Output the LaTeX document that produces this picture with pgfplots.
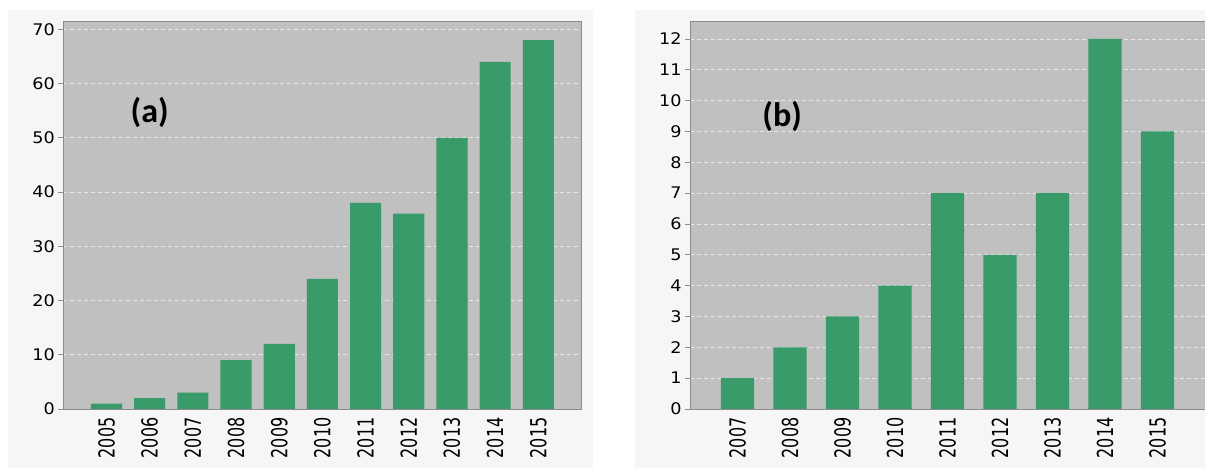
\documentclass[border=0pt]{standalone}
\usepackage{pgfplots}
\pgfplotsset{compat=1.18}
\usepackage{fontspec}
\usepackage{graphicx}
\newfontfamily\tickfont{DejaVu Sans}
\newfontfamily\labfont{Carlito}
\definecolor{bargreen}{HTML}{389B69}
\definecolor{plotbg}{HTML}{C0C0C0}
\definecolor{panelbg}{HTML}{F6F6F6}
\definecolor{axisgray}{HTML}{8C8C8C}
\definecolor{gridc}{HTML}{E8E8E8}
\newcommand{\xl}[1]{\scalebox{1}[1.38]{#1}}
\pgfplotsset{
  mybar/.style={
    scale only axis,
    ybar,
    axis background/.style={fill=plotbg},
    axis line style={axisgray, line width=0.8pt},
    ymajorgrids,
    grid style={gridc, line width=0.8pt, dash pattern=on 4pt off 3pt},
    tick align=outside,
    major tick length=5pt,
    ytick pos=left,
    ytick style={axisgray, line width=0.8pt},
    xtick style={draw=none},
    xtick=data,
    tick label style={font=\tickfont\fontsize{16}{16}\selectfont, text=black},
    /pgf/number format/assume math mode=true,
    yticklabel={\scalebox{1.1}[1]{\pgfmathprintnumber{\tick}}},
    xticklabel style={rotate=90, anchor=east},
    ymin=0,
    clip=false,
  }
}
\begin{document}
\begin{tikzpicture}[x=1pt,y=1pt]
\useasboundingbox (0,0) rectangle (1205,468);
\fill[white] (0,0) rectangle (1205,468);
\fill[panelbg] (8.3,0) rectangle (592.7,458);
\fill[panelbg] (635,0) rectangle (1205,458);

\begin{axis}[mybar,
  at={(63.3pt,59pt)}, anchor=south west,
  width=518.2pt, height=387.3pt,
  xmin=-1, xmax=11, ymax=71.4,
  bar width=0.72,
  ytick={0,10,...,70},
  xticklabels={\xl{2005},\xl{2006},\xl{2007},\xl{2008},\xl{2009},\xl{2010},\xl{2011},\xl{2012},\xl{2013},\xl{2014},\xl{2015}},
]
\addplot[fill=bargreen, draw=none] coordinates {
 (0,1) (1,2) (2,3) (3,9) (4,12) (5,24) (6,38) (7,36) (8,50) (9,64) (10,68)};
\node[font=\labfont\bfseries\fontsize{34}{34}\selectfont] at (axis cs:1.0,54.6) {(a)};
\end{axis}

\begin{axis}[mybar,
  at={(690pt,59pt)}, anchor=south west,
  width=515pt, height=387.3pt,
  xmin=-0.905, xmax=8.905, ymax=12.56,
  bar width=0.63,
  ytick={0,1,...,12},
  xticklabels={\xl{2007},\xl{2008},\xl{2009},\xl{2010},\xl{2011},\xl{2012},\xl{2013},\xl{2014},\xl{2015}},
]
\addplot[fill=bargreen, draw=none] coordinates {
 (0,1) (1,2) (2,3) (3,4) (4,7) (5,5) (6,7) (7,12) (8,9)};
\node[font=\labfont\bfseries\fontsize{34}{34}\selectfont] at (axis cs:0.85,9.5) {(b)};
\end{axis}
\end{tikzpicture}
\end{document}
